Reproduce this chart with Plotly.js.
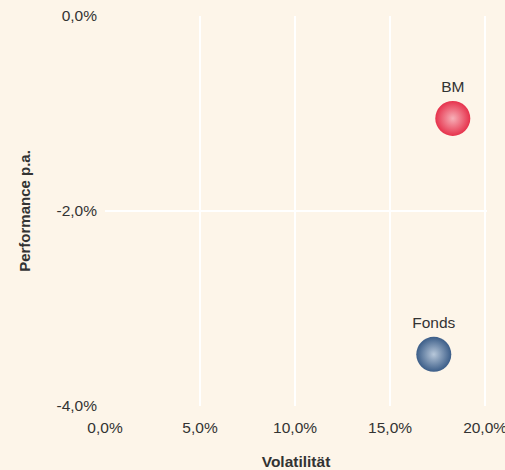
<!DOCTYPE html>
<html><head><meta charset="utf-8">
<script src="https://cdn.plot.ly/plotly-3.0.1.min.js"></script>
<style>html,body{margin:0;padding:0;background:#fdf5e9;}</style>
</head><body><div id="chart" style="width:505px;height:470px;"></div>
<script>
const names = ["BM", "Fonds"];
const volatility = [18.3, 17.3];
const performance = [-1.05, -3.47];
const colors = ["#e6324c", "#3b5d88"];
const highlights = ["#f7b0b8", "#b8c8da"];
const xTickVals = [0, 5, 10, 15, 20];
const xTickText = ["0,0%", "5,0%", "10,0%", "15,0%", "20,0%"];
const yTickVals = [-4, -2, 0];
const yTickText = ["-4,0%", "-2,0%", "0,0%"];

const traces = names.map((n, i) => ({
  type: "scatter", mode: "markers+text",
  x: [volatility[i]], y: [performance[i]],
  text: [n], textposition: "top center",
  textfont: {family: "Liberation Sans, Arial", size: 15.5, color: "#333333"},
  marker: {size: 35, color: colors[i], line: {width: 0},
    gradient: {type: "radial", color: highlights[i]}},
  showlegend: false, hoverinfo: "x+y+text", cliponaxis: false
}));

Plotly.newPlot("chart", traces, {
  width: 505, height: 470,
  paper_bgcolor: "#fdf5e9", plot_bgcolor: "#fdf5e9",
  font: {family: "Liberation Sans, Arial", size: 15.5, color: "#333333"},
  margin: {l: 105, r: 18, t: 16, b: 64},
  xaxis: {range: [0, 20.1], tickmode: "array", tickvals: xTickVals, ticktext: xTickText,
    showgrid: true, gridcolor: "#ffffff", gridwidth: 2, zeroline: false, showline: false,
    ticks: "", ticklabelstandoff: 10, ticklabeloverflow: "allow",
    title: {text: "<b>Volatilität</b>", font: {size: 15.5, color: "#333333"}, standoff: 22}},
  yaxis: {range: [-4, 0], tickmode: "array", tickvals: yTickVals, ticktext: yTickText,
    showgrid: true, gridcolor: "#ffffff", gridwidth: 2, zeroline: false, showline: false,
    ticks: "", ticklabelstandoff: 7, ticklabeloverflow: "allow",
    title: {text: "<b>Performance p.a.</b>", font: {size: 15, color: "#333333"}, standoff: 22}}
}, {displayModeBar: false, staticPlot: true});
</script></body></html>
